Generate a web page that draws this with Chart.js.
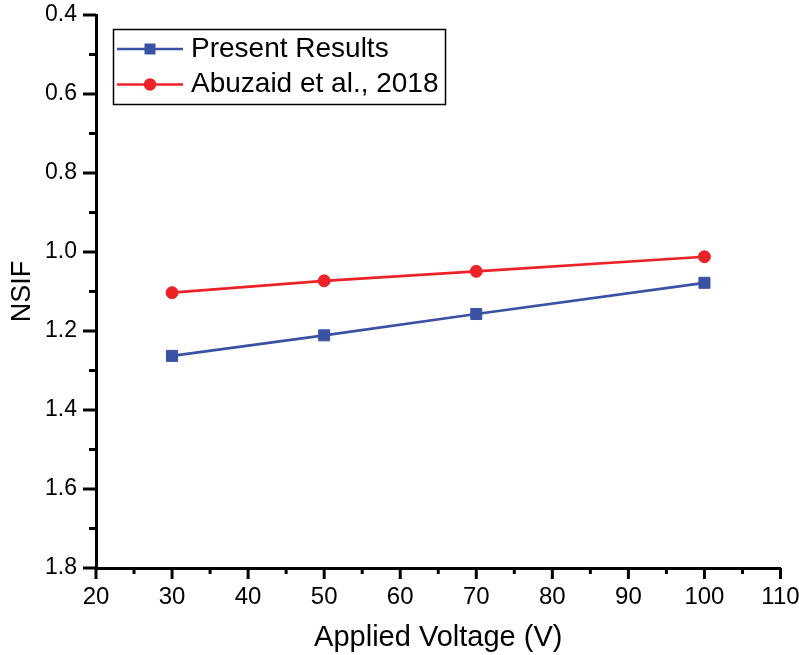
<!DOCTYPE html>
<html>
<head>
<meta charset="utf-8">
<title>NSIF vs Applied Voltage</title>
<script src="https://cdn.jsdelivr.net/npm/chart.js@4/dist/chart.umd.min.js"></script>
<style>
  html, body { margin: 0; padding: 0; background: #fff; }
  canvas { display: block; }
</style>
</head>
<body>
<canvas id="chart" width="799" height="655"></canvas>
<script>
// NSIF vs applied voltage

const voltages = [30, 50, 70, 100];
const presentResults = [1.263, 1.211, 1.157, 1.078];
const abuzaid2018 = [1.103, 1.073, 1.049, 1.012];
const seriesLabels = ['Present Results', 'Abuzaid et al., 2018'];

const FONT = "'Liberation Sans', Arial, sans-serif";
const BLUE = '#3a52a4';
const RED = '#ec2227';

const toPoints = (ys) => voltages.map((v, i) => ({ x: v, y: ys[i] }));

// Outward major/minor tick marks, drawn from the scales' own ticks
const tickMarks = {
    id: 'tickMarks',
    afterDraw(chart) {
        const ctx = chart.ctx;
        const xs = chart.scales.x;
        const ys = chart.scales.y;
        ctx.save();
        ctx.strokeStyle = '#000';
        ctx.lineWidth = 3;
        xs.ticks.forEach((t, i) => {
            const px = xs.getPixelForTick(i);
            const len = t.label !== '' ? 11 : 6;
            ctx.beginPath();
            ctx.moveTo(px, xs.top);
            ctx.lineTo(px, xs.top + len);
            ctx.stroke();
        });
        ys.ticks.forEach((t, i) => {
            const py = ys.getPixelForTick(i);
            const len = t.label !== '' ? 13 : 7;
            ctx.beginPath();
            ctx.moveTo(ys.right - len, py);
            ctx.lineTo(ys.right, py);
            ctx.stroke();
        });
        ctx.restore();
    }
};

// Boxed legend with line + marker samples (Origin style)
const boxLegend = {
    id: 'boxLegend',
    afterDraw(chart) {
        const ctx = chart.ctx;
        const left = 113.5, top = 29.5, w = 332, h = 75;
        const rows = [49, 84.5];
        ctx.save();
        ctx.strokeStyle = '#000';
        ctx.lineWidth = 1.5;
        ctx.strokeRect(left, top, w, h);
        chart.data.datasets.forEach((ds, i) => {
            const y = rows[i];
            ctx.strokeStyle = ds.borderColor;
            ctx.fillStyle = ds.borderColor;
            ctx.lineWidth = 2.7;
            ctx.beginPath();
            ctx.moveTo(117, y);
            ctx.lineTo(183, y);
            ctx.stroke();
            if (ds.pointStyle === 'rect') {
                ctx.fillRect(150 - 5.5, y - 5.5, 11, 11);
            } else {
                ctx.beginPath();
                ctx.arc(150, y, 6.2, 0, Math.PI * 2);
                ctx.fill();
            }
            ctx.fillStyle = '#000';
            ctx.font = '28px ' + FONT;
            ctx.textAlign = 'left';
            ctx.textBaseline = 'middle';
            ctx.fillText(ds.label, 191, y);
        });
        ctx.restore();
    }
};

new Chart(document.getElementById('chart'), {
    type: 'line',
    data: {
        datasets: [{
            label: seriesLabels[0],
            data: toPoints(presentResults),
            borderColor: BLUE,
            backgroundColor: BLUE,
            borderWidth: 2.7,
            pointStyle: 'rect',
            pointRadius: 7.8,
            pointBorderWidth: 1,
            pointHoverRadius: 7.8,
            tension: 0
        }, {
            label: seriesLabels[1],
            data: toPoints(abuzaid2018),
            borderColor: RED,
            backgroundColor: RED,
            borderWidth: 2.7,
            pointStyle: 'circle',
            pointRadius: 6,
            pointBorderWidth: 1,
            pointHoverRadius: 6,
            tension: 0
        }]
    },
    options: {
        responsive: false,
        animation: false,
        devicePixelRatio: 1,
        layout: { padding: { left: 0, top: 15, right: 18.5, bottom: 0 } },
        plugins: {
            legend: { display: false },
            tooltip: { enabled: false }
        },
        scales: {
            x: {
                type: 'linear',
                min: 20,
                max: 110,
                grid: { display: false, drawTicks: false },
                border: { display: true, color: '#000', width: 3 },
                ticks: {
                    stepSize: 5,
                    autoSkip: false,
                    maxRotation: 0,
                    padding: 15,
                    color: '#000',
                    font: { family: FONT, size: 24 },
                    callback: (v) => (v % 10 === 0 ? String(v) : '')
                },
                title: {
                    display: true,
                    text: 'Applied Voltage (V)',
                    color: '#000',
                    font: { family: FONT, size: 29 },
                    padding: { top: 0, bottom: 0 }
                },
                afterFit: (s) => { s.height = 87; s.paddingLeft = 0; s.paddingRight = 0; }
            },
            y: {
                type: 'linear',
                reverse: true,
                min: 0.4,
                max: 1.8,
                grid: { display: false, drawTicks: false },
                border: { display: true, color: '#000', width: 3 },
                ticks: {
                    stepSize: 0.1,
                    autoSkip: false,
                    padding: 19,
                    color: '#000',
                    font: { family: FONT, size: 23 },
                    callback: (v) => (Math.round(v * 10) % 2 === 0 ? v.toFixed(1) : '')
                },
                title: {
                    display: true,
                    text: 'NSIF',
                    color: '#000',
                    font: { family: FONT, size: 27 },
                    padding: { top: 6, bottom: 0 }
                },
                afterFit: (s) => { s.width = 96; s.paddingTop = 0; s.paddingBottom = 0; }
            }
        }
    },
    plugins: [tickMarks, boxLegend]
});
</script>
</body>
</html>
